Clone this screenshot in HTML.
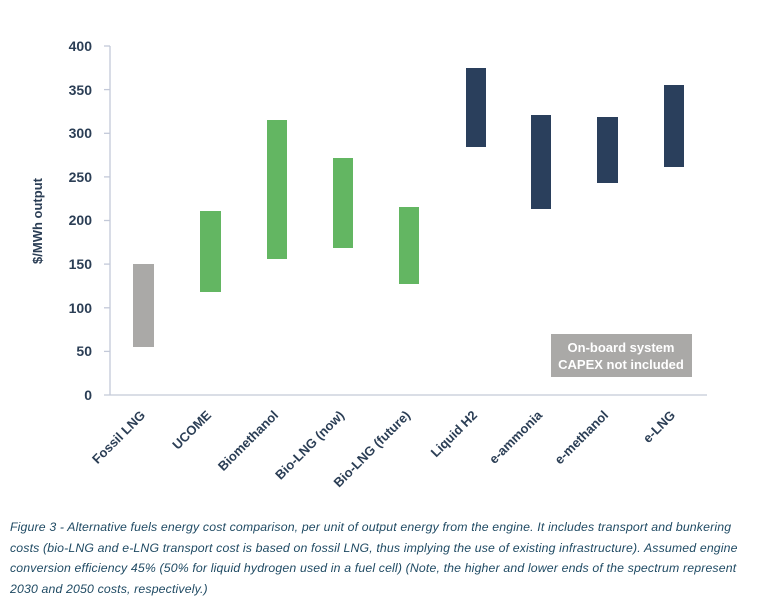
<!DOCTYPE html>
<html><head><meta charset="utf-8"><style>
body{margin:0;background:#fff;width:768px;height:613px;overflow:hidden;font-family:"Liberation Sans",sans-serif;}
svg{position:absolute;left:0;top:0}
.cap{position:absolute;left:10px;top:517px;width:760px;white-space:nowrap;font-style:italic;font-size:12.3px;line-height:20.7px;color:#1f4a63;letter-spacing:0.15px}
</style></head><body>
<svg width="768" height="613">
<g stroke="#c3c9d8" stroke-width="1.3" fill="none">
<line x1="110" y1="46" x2="110" y2="395"/>
<line x1="104" y1="395" x2="707" y2="395"/>
<line x1="104" y1="46" x2="110" y2="46"/><line x1="104" y1="89.6" x2="110" y2="89.6"/>
<line x1="104" y1="133.3" x2="110" y2="133.3"/><line x1="104" y1="176.9" x2="110" y2="176.9"/>
<line x1="104" y1="220.5" x2="110" y2="220.5"/><line x1="104" y1="264.1" x2="110" y2="264.1"/>
<line x1="104" y1="307.8" x2="110" y2="307.8"/><line x1="104" y1="351.4" x2="110" y2="351.4"/>
</g>
<g font-size="14" font-weight="bold" fill="#2b3e55" text-anchor="end">
<text x="92" y="51">400</text><text x="92" y="95">350</text><text x="92" y="138">300</text>
<text x="92" y="182">250</text><text x="92" y="225">200</text><text x="92" y="269">150</text>
<text x="92" y="313">100</text><text x="92" y="356">50</text><text x="92" y="400">0</text>
</g>
<text transform="translate(42,221) rotate(-90)" text-anchor="middle" font-size="13" font-weight="bold" fill="#2b3e55">$/MWh output</text>
<rect x="133" y="264" width="21" height="83" fill="#aaa9a7"/>
<rect x="200" y="211" width="21" height="81" fill="#63b662"/>
<rect x="267" y="120" width="20" height="139" fill="#63b662"/>
<rect x="333" y="158" width="20" height="90" fill="#63b662"/>
<rect x="399" y="207" width="20" height="77" fill="#63b662"/>
<rect x="466" y="68" width="20" height="79" fill="#2a3f5c"/>
<rect x="531" y="115" width="20" height="94" fill="#2a3f5c"/>
<rect x="597" y="117" width="21" height="66" fill="#2a3f5c"/>
<rect x="664" y="85" width="20" height="82" fill="#2a3f5c"/>
<rect x="551" y="334" width="141" height="43" fill="#aaa9a7"/>
<g font-size="13" font-weight="bold" fill="#fff" text-anchor="middle">
<text x="621" y="352">On-board system</text><text x="621" y="369">CAPEX not included</text></g>
<g font-size="13" font-weight="bold" fill="#2b3e55" text-anchor="end">
<text transform="translate(146,416) rotate(-45)">Fossil LNG</text>
<text transform="translate(212,416) rotate(-45)">UCOME</text>
<text transform="translate(279,416) rotate(-45)">Biomethanol</text>
<text transform="translate(345,416) rotate(-45)">Bio-LNG (now)</text>
<text transform="translate(411,416) rotate(-45)">Bio-LNG (future)</text>
<text transform="translate(478,416) rotate(-45)">Liquid H2</text>
<text transform="translate(543,416) rotate(-45)">e-ammonia</text>
<text transform="translate(609,416) rotate(-45)">e-methanol</text>
<text transform="translate(676,416) rotate(-45)">e-LNG</text>
</g>
</svg>
<div class="cap">Figure 3 - Alternative fuels energy cost comparison, per unit of output energy from the engine. It includes transport and bunkering<br>costs (bio-LNG and e-LNG transport cost is based on fossil LNG, thus implying the use of existing infrastructure). Assumed engine<br>conversion efficiency 45% (50% for liquid hydrogen used in a fuel cell) (Note, the higher and lower ends of the spectrum represent<br>2030 and 2050 costs, respectively.)</div>
</body></html>
